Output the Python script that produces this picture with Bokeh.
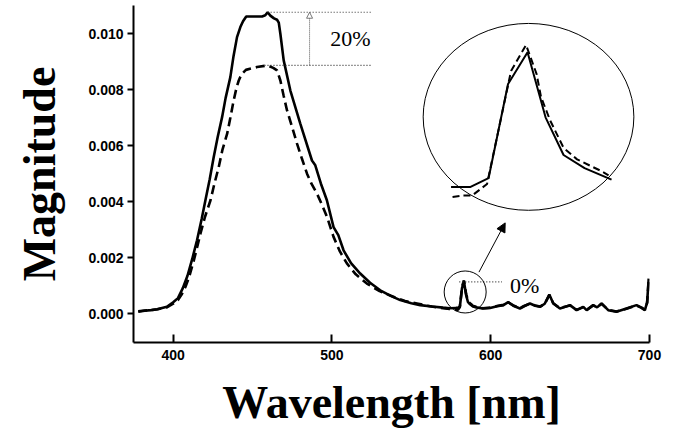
import numpy as np
from bokeh.plotting import figure
from bokeh.models import Range1d, Label, Arrow, NormalHead, FixedTicker, NumeralTickFormatter
from bokeh.embed import file_html
from bokeh.resources import INLINE

# ---- data ----
wl_solid = [378, 382, 386, 390, 396, 400, 403, 406, 409, 412, 415, 418, 420.3, 423, 425.5, 428,
            430.8, 433, 436, 438, 440.2, 442.3, 444, 446, 456, 458, 459.5, 461.2, 463.5, 465.4,
            466.5, 467.5, 469.6, 473.8, 480, 487.4, 489.5, 493, 496.8, 501, 504, 507.3, 512,
            517.8, 524, 530.4, 537, 543, 550, 555.6, 563, 570, 574, 578.1, 579.4, 580.6, 581.9,
            583.2, 584.4, 585.6, 587.0, 588.8, 591, 595, 599.6, 604, 608, 611, 614.2, 618.4, 621,
            624.7, 628, 631, 634, 636.9, 639.4, 643.6, 646, 649.9, 654.1, 658.3, 660.4, 664.5,
            667, 669.8, 674, 679.2, 685.5, 691.8, 695, 697.1, 698.5, 699.5]
mag_solid = [0.00006, 0.00010, 0.00012, 0.00015, 0.00024, 0.00040, 0.00055, 0.00090, 0.00135,
             0.00195, 0.00262, 0.00340, 0.00405, 0.00480, 0.00559, 0.00630, 0.00702, 0.00770,
             0.00845, 0.00920, 0.00988, 0.01024, 0.01045, 0.01062, 0.01062, 0.01066, 0.01077,
             0.01065, 0.01055, 0.01050, 0.01040, 0.01000, 0.00905, 0.00797, 0.00680, 0.00547,
             0.00530, 0.00465, 0.00405, 0.00309, 0.00280, 0.00226, 0.00180, 0.00143, 0.00110,
             0.00083, 0.00063, 0.00048, 0.00037, 0.00030, 0.00025, 0.00021, 0.00019, 0.00020,
             0.00020, 0.00026, 0.00091, 0.00113, 0.00068, 0.00042, 0.00033, 0.00025, 0.00022,
             0.00018, 0.00020, 0.00026, 0.00030, 0.00041, 0.00028, 0.00018, 0.00026, 0.00036,
             0.00028, 0.00024, 0.00035, 0.00068, 0.00036, 0.00018, 0.00022, 0.00030, 0.00012,
             0.00024, 0.00012, 0.00030, 0.00022, 0.00036, 0.00012, 0.00006, 0.00018, 0.00030,
             0.00020, 0.00012, 0.00040, 0.00125]

wl_dashed = [378, 382, 386, 390, 396, 400, 403, 405.5, 407.7, 410, 413, 415, 417.2, 420, 423.5,
             426, 428.7, 431, 434, 436, 438.1, 440, 441.3, 443, 445.8, 452.8, 459.5, 463, 465.4,
             467.5, 469.5, 471.7, 475, 478, 481, 484.3, 487, 490.6, 494, 496.9, 501, 505, 509.4,
             515, 522, 530, 538.7, 546, 553.5, 560, 568, 574, 578.2, 578.9, 579.5, 580.5, 582.1,
             583.1, 583.8, 584.1, 584.7, 585.6, 586.5, 588.1, 588.6, 591, 595, 599.6, 604, 608,
             611, 614.2, 618.4, 621, 624.7, 628, 631, 634, 636.9, 639.4, 643.6, 646, 649.9,
             654.1, 658.3, 660.4, 664.5, 667, 669.8, 674, 679.2, 685.5, 691.8, 695, 697.1, 698.5,
             699.5]
mag_dashed = [0.00008, 0.00011, 0.00012, 0.00015, 0.00022, 0.00035, 0.00048, 0.00070, 0.00095,
              0.00130, 0.00190, 0.00235, 0.00286, 0.00345, 0.00405, 0.00465, 0.00524, 0.00585,
              0.00643, 0.00700, 0.00762, 0.00810, 0.00833, 0.00855, 0.00871, 0.00881, 0.00887,
              0.00878, 0.00869, 0.00833, 0.00780, 0.00726, 0.00665, 0.00607, 0.00555, 0.00500,
              0.00465, 0.00428, 0.00385, 0.00345, 0.00274, 0.00222, 0.00179, 0.00140, 0.00107,
              0.00080, 0.00060, 0.00045, 0.00036, 0.00028, 0.00020, 0.00016, 0.00013, 0.00014,
              0.00014, 0.00022, 0.00100, 0.00118, 0.00098, 0.00082, 0.00066, 0.00047, 0.00039,
              0.00031, 0.00028, 0.00023, 0.00019, 0.00021, 0.00027, 0.00031, 0.00040, 0.00029,
              0.00019, 0.00027, 0.00035, 0.00029, 0.00025, 0.00034, 0.00066, 0.00037, 0.00019,
              0.00023, 0.00029, 0.00013, 0.00023, 0.00013, 0.00029, 0.00023, 0.00035, 0.00013,
              0.00007, 0.00017, 0.00029, 0.00021, 0.00013, 0.00038, 0.00120]

x_ticks = [400, 500, 600, 700]
y_ticks = [0.000, 0.002, 0.004, 0.006, 0.008, 0.010]

ws, ms = np.array(wl_solid), np.array(mag_solid)
wd, md = np.array(wl_dashed), np.array(mag_dashed)

p = figure(width=679, height=433, x_range=Range1d(375, 700),
           y_range=Range1d(-0.001036, 0.011011),
           output_backend="svg", toolbar_location=None,
           min_border_left=133, min_border_right=30, min_border_top=5, min_border_bottom=91)
p.outline_line_color = None
p.grid.visible = False
p.background_fill_color = "white"

# axes
for ax in (p.xaxis[0], p.yaxis[0]):
    ax.axis_line_width = 2
    ax.major_tick_line_width = 2
    ax.minor_tick_line_color = None
    ax.major_label_text_font = "Liberation Sans"
    ax.major_label_text_font_style = "bold"
    ax.major_label_text_font_size = "14px"
    ax.axis_label_text_font = "Liberation Serif"
    ax.axis_label_text_font_style = "bold"
    ax.axis_label_text_font_size = "46px"
    ax.axis_label_text_color = "black"
    ax.major_label_text_color = "black"

p.xaxis.ticker = FixedTicker(ticks=x_ticks)
p.xaxis.major_tick_in = 8
p.xaxis.major_tick_out = 0
p.xaxis.major_label_standoff = 7
p.xaxis.axis_label = "Wavelength [nm]"
p.xaxis.axis_label_standoff = 14

p.yaxis.ticker = FixedTicker(ticks=y_ticks)
p.yaxis.formatter = NumeralTickFormatter(format="0.000")
p.yaxis.major_tick_in = 0
p.yaxis.major_tick_out = 6
p.yaxis.major_label_standoff = 4
p.yaxis.axis_label = "Magnitude"
p.yaxis.axis_label_standoff = 20

# main curves
p.line(ws, ms, line_color="black", line_width=2.6)
p.line(wd, md, line_color="black", line_width=2.6, line_dash="9 5")

# 20% annotation
i_s = int(np.argmax(ms)); i_d = int(np.argmax(md))
peak_s, peak_d = ms[i_s], md[i_d]
ann_end = 525.3
p.line([ws[i_s], ann_end], [peak_s, peak_s], line_color="#333333", line_width=1.2, line_dash="1 2")
p.line([wd[i_d] - 2, ann_end], [peak_d, peak_d], line_color="#333333", line_width=1.2, line_dash="1 2")
p.add_layout(Arrow(end=NormalHead(size=6, fill_color="white", line_color="#555555", line_width=0.8),
                   x_start=485.9, y_start=peak_d, x_end=485.9, y_end=peak_s,
                   line_color="#555555", line_width=1, line_dash="1 1"))
p.add_layout(Label(x=499, y=(peak_s + peak_d) / 2 + 0.00002, text="20%", text_baseline="middle",
                   text_font="Liberation Serif", text_font_size="22px", text_color="black"))

# 0% annotation around the small peak
sel = (ws > 575) & (ws < 595)
k = np.argmax(np.where(sel, ms, -1))
p.line([ws[k] - 3, 607.1], [ms[k], ms[k]], line_color="#333333", line_width=1.2, line_dash="1 2")
p.add_layout(Label(x=612.1, y=ms[k] - 0.00012, text="0%", text_baseline="middle",
                   text_font="Liberation Serif", text_font_size="22px", text_color="black"))
p.scatter([583.9], [0.00077], marker="circle", size=42, fill_color=None, line_color="black", line_width=1)

# arrow to magnified view
p.add_layout(Arrow(end=NormalHead(size=9, fill_color="black", line_color="black"),
                   x_start=592.6, y_start=0.00148, x_end=609.1, y_end=0.00324,
                   line_color="black", line_width=1))

# magnified inset
p.ellipse(x=[623.8], y=[0.00703], width=132.7, height=0.00668, fill_color=None,
          line_color="black", line_width=1)
p.extra_x_ranges = {"inset": Range1d(556.93, 591.33)}
p.extra_y_ranges = {"inset": Range1d(-0.000874, 0.001452)}
ins = (ws >= 578) & (ws <= 589)
ind = (wd >= 578) & (wd <= 589)
p.line(ws[ins], ms[ins], line_color="black", line_width=2, x_range_name="inset", y_range_name="inset")
p.line(wd[ind], md[ind], line_color="black", line_width=2, line_dash="7 4",
       x_range_name="inset", y_range_name="inset")

open("out.html", "w").write(file_html(p, INLINE))
